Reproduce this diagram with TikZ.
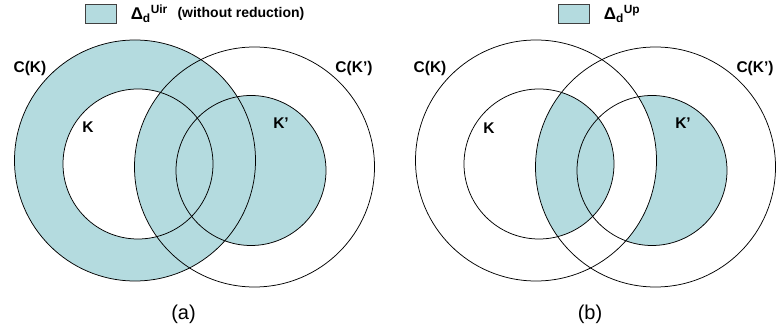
\documentclass[tikz,border=0pt]{standalone}
\usepackage{fontspec}
\setmainfont{Liberation Sans}
\usetikzlibrary{positioning}
\definecolor{deltafill}{RGB}{180,219,223}

\begin{document}
\begin{tikzpicture}[x=1pt, y=-1pt, line width=0.75pt,
    lbl/.style={inner sep=0pt, font=\bfseries\fontsize{15.5}{15.5}\selectfont},
    lgd/.style={inner sep=0pt, font=\bfseries\fontsize{17}{17}\selectfont},
    note/.style={inner sep=0pt, font=\bfseries\fontsize{14}{14}\selectfont},
    panellbl/.style={inner sep=0pt, font=\fontsize{20}{20}\selectfont},
    swatch/.style={draw=black!75, line width=0.8pt, fill=deltafill,
      minimum width=31pt, minimum height=19pt, inner sep=0pt}]
  \useasboundingbox (0,0) rectangle (776,336);
  % Legends
  \node[swatch] (keyA) at (100.5,13.5) {};
  \node[lgd, right=14pt of keyA] (deltaA) {Δ\textsubscript{d}\textsuperscript{Uir}};
  \node[note, right=9pt of deltaA] (noteA) {(without reduction)};
  \node[swatch] (keyB) at (573.5,13.5) {};
  \node[lgd, right=14pt of keyB] (deltaB) {Δ\textsubscript{d}\textsuperscript{Up}};
  % (a): C(K) minus K, K in C(K'), and all of K'
  \fill[deltafill] (135,160.5) circle[radius=120.5];
  \fill[deltafill] (251,170.5) circle[radius=75];
  \begin{scope}
    \clip (138,164) circle[radius=75];
    \fill[white, even odd rule] (-50,-50) rectangle (450,400)
      (254.5,167) circle[radius=120];
  \end{scope}
  \draw (135,160.5) circle[radius=120.5];
  \draw (254.5,167) circle[radius=120];
  \draw (138,164) circle[radius=75];
  \draw (251,170.5) circle[radius=75];
  % (b): K in C(K'), and K' outside C(K)
  \begin{scope}[xshift=401pt]
    \begin{scope}
      \clip (138,164) circle[radius=75];
      \fill[deltafill] (254.5,167) circle[radius=120];
    \end{scope}
    \begin{scope}
      \clip (251,170.5) circle[radius=75];
      \fill[deltafill, even odd rule] (-50,-50) rectangle (450,400)
        (135,160.5) circle[radius=120.5];
    \end{scope}
    \draw (135,160.5) circle[radius=120.5];
    \draw (254.5,167) circle[radius=120];
    \draw (138,164) circle[radius=75];
    \draw (251,170.5) circle[radius=75];
  \end{scope}
  % Labels
  \node[lbl] (ckA) at (30,68) {C(K)};
  \node[lbl] (ckpA) at (354,68) {C(K')};
  \node[lbl] (kA) at (88,127) {K};
  \node[lbl] (kpA) at (281,123) {K'};
  \node[lbl] (ckB) at (430,68) {C(K)};
  \node[lbl] (ckpB) at (755,68) {C(K')};
  \node[lbl] (kB) at (489,128) {K};
  \node[lbl] (kpB) at (683,123) {K'};
  \node[panellbl] (capA) at (183.5,314) {(a)};
  \node[panellbl] (capB) at (590,314) {(b)};
\end{tikzpicture}
\end{document}
